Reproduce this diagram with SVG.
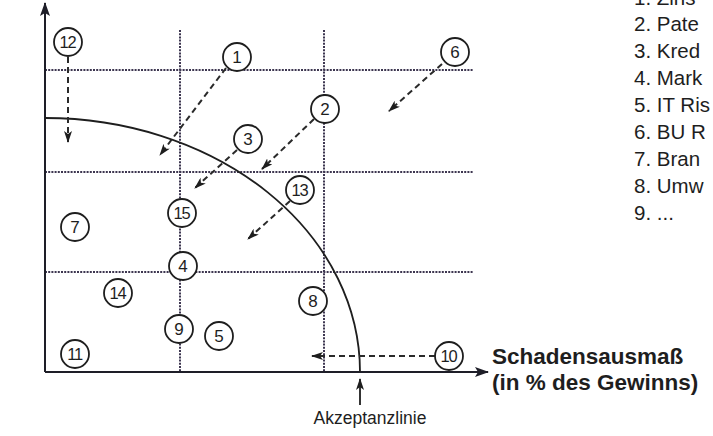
<svg xmlns="http://www.w3.org/2000/svg" width="713" height="436" viewBox="0 0 713 436">
<style>
  .grid { stroke: #3d3650; stroke-width: 2; stroke-dasharray: 2 1.2; fill: none; }
  .axis { stroke: #1e1e28; stroke-width: 2; fill: none; }
  .curve { stroke: #1e1e1e; stroke-width: 1.8; fill: none; }
  .dash { stroke: #2a2a2a; stroke-width: 2; stroke-dasharray: 6 4; fill: none; marker-end: url(#ah); }
  .node circle { fill: #fff; stroke: #1e1e1e; stroke-width: 1.8; }
  .node text { font-family: "Liberation Sans", Arial, sans-serif; font-size: 17px; fill: #1e1e1e; text-anchor: middle; }
  .node text.two { font-size: 16.5px; letter-spacing: -1.2px; }
  .lbl { font-family: "Liberation Sans", Arial, sans-serif; fill: #1e1e1e; }
  .legend { font-family: "Liberation Sans", Arial, sans-serif; font-size: 20.5px; fill: #1e1e1e; }
  .bold { font-weight: bold; font-size: 22.5px; }
</style>
<defs>
  <marker id="ah" viewBox="0 0 12 8" refX="11" refY="4" markerWidth="12" markerHeight="8" markerUnits="userSpaceOnUse" orient="auto">
    <path d="M0,0 L12,4 L0,8 L3,4 z" fill="#1e1e1e"/>
  </marker>
  <marker id="axh" viewBox="0 0 14 10" refX="13" refY="5" markerWidth="14" markerHeight="10" markerUnits="userSpaceOnUse" orient="auto">
    <path d="M0,0 L14,5 L0,10 L3,5 z" fill="#1e1e28"/>
  </marker>
</defs>
<rect width="713" height="436" fill="#fff"/>

<g id="grid">
  <line class="grid" x1="45" y1="70" x2="473" y2="70"/>
  <line class="grid" x1="45" y1="172" x2="473" y2="172"/>
  <line class="grid" x1="45" y1="272" x2="473" y2="272"/>
  <line class="grid" x1="180" y1="30" x2="180" y2="372"/>
  <line class="grid" x1="324" y1="30" x2="324" y2="372"/>
</g>

<g id="axes">
  <line class="axis" x1="45" y1="372" x2="45" y2="3" marker-end="url(#axh)"/>
  <line class="axis" x1="45" y1="372" x2="488" y2="372" marker-end="url(#axh)"/>
</g>

<g id="akzeptanzlinie">
  <path class="curve" d="M45,118 A315,254 0 0 1 360,372"/>
</g>

<g id="connectors">
  <line class="dash" x1="68" y1="57" x2="68" y2="142"/>
  <line class="dash" x1="226" y1="68" x2="160" y2="155"/>
  <line class="dash" x1="314" y1="119" x2="262" y2="169"/>
  <line class="dash" x1="237" y1="150" x2="195" y2="188"/>
  <line class="dash" x1="290" y1="201" x2="248" y2="239"/>
  <line class="dash" x1="442" y1="64" x2="389" y2="111"/>
  <line class="dash" x1="435" y1="356" x2="312" y2="356"/>
  <line stroke="#1e1e1e" stroke-width="1.8" x1="360" y1="405" x2="360" y2="379" marker-end="url(#ah)"/>
</g>

<g id="n12" class="node"><circle cx="68" cy="42" r="14"/><text class="two" x="67.5" y="48">12</text></g>
<g id="n1" class="node"><circle cx="237" cy="57" r="14"/><text x="237" y="63">1</text></g>
<g id="n6" class="node"><circle cx="455" cy="52" r="14"/><text x="455" y="58">6</text></g>
<g id="n2" class="node"><circle cx="325" cy="109" r="14"/><text x="325" y="115">2</text></g>
<g id="n3" class="node"><circle cx="248" cy="139" r="14"/><text x="248" y="145">3</text></g>
<g id="n13" class="node"><circle cx="300" cy="190" r="14"/><text class="two" x="299.5" y="196">13</text></g>
<g id="n15" class="node"><circle cx="182" cy="213" r="14"/><text class="two" x="181.5" y="219">15</text></g>
<g id="n7" class="node"><circle cx="75" cy="227" r="14"/><text x="75" y="233">7</text></g>
<g id="n4" class="node"><circle cx="183" cy="266" r="14"/><text x="183" y="272">4</text></g>
<g id="n14" class="node"><circle cx="118" cy="293" r="14"/><text class="two" x="117.5" y="299">14</text></g>
<g id="n8" class="node"><circle cx="313" cy="301" r="14"/><text x="313" y="307">8</text></g>
<g id="n9" class="node"><circle cx="179" cy="329" r="14"/><text x="179" y="335">9</text></g>
<g id="n5" class="node"><circle cx="219" cy="336" r="14"/><text x="219" y="342">5</text></g>
<g id="n11" class="node"><circle cx="75" cy="354" r="14"/><text class="two" x="74.5" y="360">11</text></g>
<g id="n10" class="node"><circle cx="449" cy="356" r="14"/><text class="two" x="448.5" y="362">10</text></g>

<g id="labels">
  <text class="lbl" x="370" y="424" font-size="17.5" text-anchor="middle">Akzeptanzlinie</text>
  <text class="lbl bold" x="492" y="364">Schadensausmaß</text>
  <text class="lbl bold" x="492" y="390">(in % des Gewinns)</text>
</g>

<g id="legend" class="legend">
  <text x="634" y="5">1. Zins</text>
  <text x="634" y="31">2. Pate</text>
  <text x="634" y="58">3. Kred</text>
  <text x="634" y="85">4. Mark</text>
  <text x="634" y="112">5. IT Ris</text>
  <text x="634" y="139">6. BU R</text>
  <text x="634" y="166">7. Bran</text>
  <text x="634" y="193">8. Umw</text>
  <text x="634" y="220">9. ...</text>
</g>
</svg>
